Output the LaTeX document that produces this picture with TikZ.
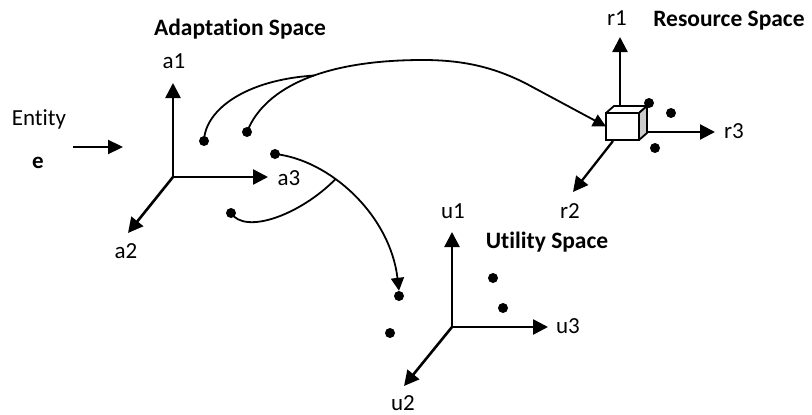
\documentclass[tikz,border=0pt]{standalone}
\usepackage{fontspec}
\setmainfont[RawFeature=-liga]{Carlito}
\usetikzlibrary{arrows.meta}
\begin{document}
\begin{tikzpicture}[x=1pt,y=-1pt,
  lbl/.style={font=\fontsize{23}{28}\selectfont, inner sep=0pt, anchor=base},
  ttl/.style={inner sep=0pt, anchor=base, font=\fontsize{23.5}{28}\selectfont\bfseries},
  axis/.style={line width=2.6pt, -{Triangle[length=15pt,width=15pt]}},
  raxis/.style={line width=2.3pt, -{Triangle[length=15pt,width=15pt]}},
  curve/.style={line width=1.8pt},
  curvearrow/.style={line width=1.8pt, -{Triangle[length=13pt,width=13pt]}},
  dot/.style={circle, fill, inner sep=0pt, minimum size=10pt},
]
\useasboundingbox (0,0) rectangle (812,415);

% ---------- labels ----------
\node[ttl] (adtitle) at (240,35) {Adaptation Space};
\node[ttl] (restitle) at (729,26) {Resource Space};
\node[ttl] (uttitle) at (547,248) {Utility Space};
\node[lbl] (entity) at (39,125) {Entity};
\node[lbl,font=\fontsize{23}{28}\selectfont\bfseries] (e) at (38,168) {e};
\node[lbl] (la1) at (174,68) {a1};
\node[lbl] (la2) at (126,258) {a2};
\node[lbl] (la3) at (289,185) {a3};
\node[lbl] (lr1) at (617,25) {r1};
\node[lbl] (lr2) at (570,218) {r2};
\node[lbl] (lr3) at (734,138) {r3};
\node[lbl] (lu1) at (453,218) {u1};
\node[lbl] (lu2) at (403,410) {u2};
\node[lbl] (lu3) at (568,333) {u3};

% ---------- entity arrow ----------
\coordinate (es) at (73,147);
\coordinate (ee) at (123,147);
\draw[line width=2.3pt, -{Triangle[length=15pt,width=14pt]}] (es) -- (ee);

% ---------- adaptation axes ----------
\coordinate (ao) at (173,177);
\coordinate (a1t) at (173,83);
\coordinate (a2t) at (128,233);
\coordinate (a3t) at (268,177);
\draw[axis] (ao) -- (a1t);
\draw[axis] (ao) -- (a2t);
\draw[axis] (ao) -- (a3t);

% ---------- utility axes ----------
\coordinate (uo) at (452,327);
\coordinate (u1t) at (452,232);
\coordinate (u2t) at (404,386);
\coordinate (u3t) at (548,327);
\draw[axis] (uo) -- (u1t);
\draw[axis] (uo) -- (u2t);
\draw[axis] (uo) -- (u3t);

% ---------- resource axes and cube ----------
\coordinate (r1s) at (620,106);
\coordinate (r1t) at (620,37);
\coordinate (r2s) at (613,141);
\coordinate (r2t) at (573,192);
\coordinate (r3s) at (647,132);
\coordinate (r3t) at (715,132);
\draw[raxis] (r1s) -- (r1t);
\draw[raxis] (r2s) -- (r2t);
\draw[raxis] (r3s) -- (r3t);
\node[draw, fill=white, line width=1.8pt, minimum width=33pt, minimum height=27pt,
      inner sep=0pt, outer sep=0pt] (cube) at (622.5,126.5) {};
\draw[line width=1.8pt, line join=round, fill=white]
  (cube.north west) -- ++(8,-7) -- ++(33,0) -- (cube.north east) -- cycle;
\draw[line width=1.8pt, line join=round, fill=black!20]
  (cube.north east) -- ++(8,-7) -- ++(0,27) -- (cube.south east) -- cycle;

% ---------- dots ----------
\node[dot] (d1) at (204,141) {};
\node[dot] (d2) at (247,132) {};
\node[dot] (d3) at (275,154) {};
\node[dot] (d4) at (231,213) {};
\node[dot] (ud1) at (399,296) {};
\node[dot] (ud2) at (390,333) {};
\node[dot] (ud3) at (493,278) {};
\node[dot] (ud4) at (503,308) {};
\node[dot] (rd1) at (649,103) {};
\node[dot] (rd2) at (671,113) {};
\node[dot] (rd3) at (655,148) {};

% ---------- curves ----------
\draw[curvearrow] (d2.center) .. controls (260,98) and (305,60) .. (423,60)
  coordinate[pos=0.6] (j1)
  .. controls (465,60) and (495,68) .. (525,83) -- (cube.west);
\draw[curve] (d1.center) .. controls (205,110) and (245,80) .. (j1);
\draw[curvearrow] (d3.center) .. controls (330,160) and (390,215) .. (ud1.north)
  coordinate[pos=0.37] (j2);
\draw[curve] (d4.center) .. controls (245,235) and (300,215) .. (j2);
\end{tikzpicture}
\end{document}
